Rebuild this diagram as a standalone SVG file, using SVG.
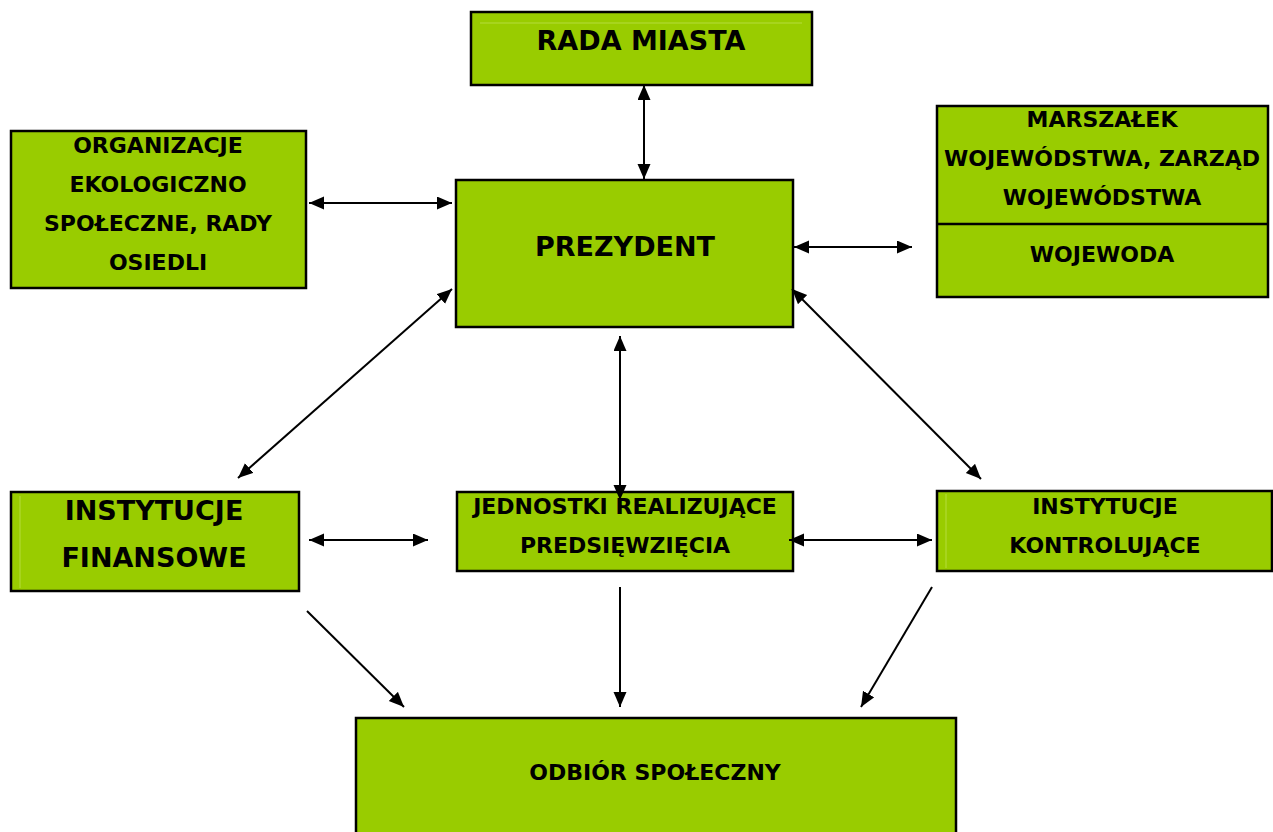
<svg xmlns="http://www.w3.org/2000/svg" width="1273" height="832" viewBox="0 0 1273 832">
<defs>
<style>
.box{fill:#99cc00;stroke:#000;stroke-width:2.5}
.t{font-family:"DejaVu Sans",Verdana,sans-serif;font-weight:bold;fill:#000;text-anchor:middle}
.big{font-size:27px}
.sm{font-size:22px}
.faint{stroke:#b5dc3c;stroke-width:1}
.c{stroke:#000;stroke-width:2;fill:none}
.bi{marker-start:url(#ah);marker-end:url(#ah)}
.one{marker-end:url(#ah)}
</style>
<marker id="ah" markerUnits="userSpaceOnUse" markerWidth="17" markerHeight="15" refX="15" refY="6.5" orient="auto-start-reverse">
<path d="M0,0 L15,6.5 L0,13 z" fill="#000"/>
</marker>
</defs>
<rect width="1273" height="832" fill="#fff"/>

<g id="rada">
<rect class="box" x="471" y="12" width="341" height="73"/>
<line class="faint" x1="480" y1="23" x2="802" y2="23"/>
<text class="t big" x="641" y="50">RADA MIASTA</text>
</g>

<g id="organizacje">
<rect class="box" x="11" y="131" width="295" height="157"/>
<text class="t sm" x="158" y="153">ORGANIZACJE</text>
<text class="t sm" x="158" y="192">EKOLOGICZNO</text>
<text class="t sm" x="158" y="231">SPOŁECZNE, RADY</text>
<text class="t sm" x="158" y="270">OSIEDLI</text>
</g>

<g id="prezydent">
<rect class="box" x="456" y="180" width="337" height="147"/>
<text class="t big" x="625" y="256">PREZYDENT</text>
</g>

<g id="marszalek">
<rect class="box" x="937" y="106" width="331" height="191"/>
<line x1="937" y1="224" x2="1268" y2="224" stroke="#000" stroke-width="2.5"/>
<text class="t sm" x="1102" y="127">MARSZAŁEK</text>
<text class="t sm" x="1102" y="166">WOJEWÓDSTWA, ZARZĄD</text>
<text class="t sm" x="1102" y="205">WOJEWÓDSTWA</text>
<text class="t sm" x="1102" y="262">WOJEWODA</text>
</g>

<g id="finansowe">
<rect class="box" x="11" y="492" width="288" height="99"/>
<line class="faint" x1="20" y1="496" x2="20" y2="588"/>
<text class="t big" x="154" y="520">INSTYTUCJE</text>
<text class="t big" x="154" y="567">FINANSOWE</text>
</g>

<g id="jednostki">
<rect class="box" x="457" y="492" width="336" height="79"/>
<text class="t sm" x="625" y="514">JEDNOSTKI REALIZUJĄCE</text>
<text class="t sm" x="625" y="553">PREDSIĘWZIĘCIA</text>
</g>

<g id="kontrolujace">
<rect class="box" x="937" y="491" width="335" height="80"/>
<line class="faint" x1="946" y1="494" x2="946" y2="568"/>
<text class="t sm" x="1105" y="514">INSTYTUCJE</text>
<text class="t sm" x="1105" y="553">KONTROLUJĄCE</text>
</g>

<g id="odbior">
<rect class="box" x="356" y="718" width="600" height="120"/>
<text class="t sm" x="655" y="780">ODBIÓR SPOŁECZNY</text>
</g>

<g id="connectors">
<line class="c bi" x1="644" y1="85" x2="644" y2="179"/>
<line class="c bi" x1="309" y1="203" x2="452" y2="203"/>
<line class="c bi" x1="794" y1="247" x2="912" y2="247"/>
<line class="c bi" x1="452" y1="289" x2="238" y2="478"/>
<line class="c bi" x1="620" y1="336" x2="620" y2="500"/>
<line class="c bi" x1="792" y1="289" x2="981" y2="479"/>
<line class="c bi" x1="309" y1="540" x2="428" y2="540"/>
<line class="c bi" x1="789" y1="540" x2="932" y2="540"/>
<line class="c one" x1="307" y1="611" x2="404" y2="707"/>
<line class="c one" x1="620" y1="587" x2="620" y2="707"/>
<line class="c one" x1="932" y1="587" x2="861" y2="707"/>
</g>
</svg>
